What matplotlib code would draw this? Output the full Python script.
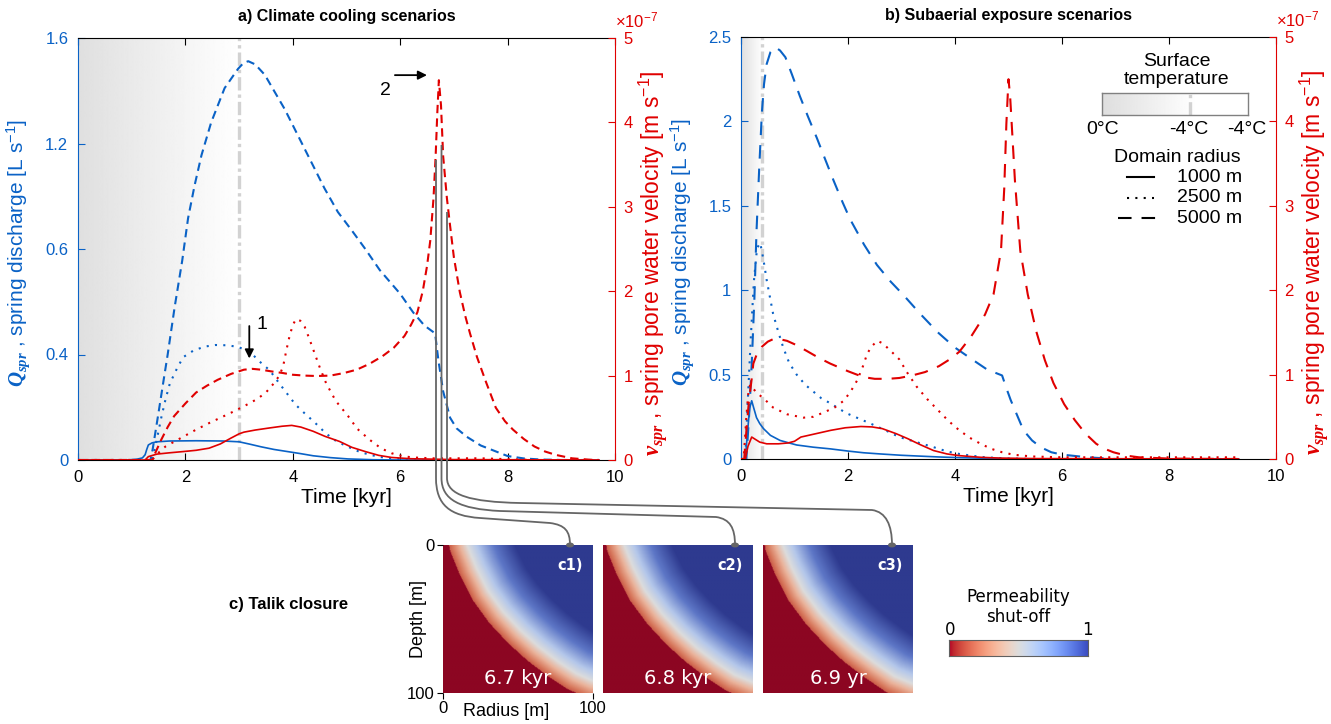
import numpy as np
import matplotlib
matplotlib.use('Agg')
import matplotlib.pyplot as plt
from matplotlib.colors import LinearSegmentedColormap
from matplotlib.lines import Line2D
from matplotlib.path import Path
from matplotlib.patches import PathPatch, Circle

plt.rcParams['font.family'] = ['Liberation Sans', 'DejaVu Sans']
plt.rcParams['mathtext.fontset'] = 'custom'
plt.rcParams['mathtext.rm'] = 'Liberation Sans'
plt.rcParams['mathtext.it'] = 'Liberation Sans:italic'
plt.rcParams['mathtext.bf'] = 'Liberation Serif:bold'
plt.rcParams['mathtext.bfit'] = 'Liberation Serif:italic:bold'

BLUE = '#0a62c6'
RED = '#e00000'

# ---------------- data: panel a (climate cooling) ----------------
# (time kyr, Q L/s)
A_Q1000 = [(0, 0), (0.9, 0), (1.1, 0.003), (1.2, 0.008), (1.25, 0.02), (1.28, 0.04), (1.31, 0.057),
           (1.38, 0.065), (1.47, 0.069), (1.7, 0.072), (2.2, 0.073), (2.7, 0.072), (3.0, 0.069),
           (3.2, 0.06), (3.41, 0.05), (3.65, 0.04), (3.9, 0.032), (4.15, 0.024), (4.38, 0.016),
           (4.7, 0.009), (5.03, 0.004), (5.5, 0.001), (6.0, 0), (9.7, 0)]
A_Q2500 = [(0, 0), (1.38, 0), (1.45, 0.06), (1.55, 0.16), (1.63, 0.23), (1.71, 0.29), (1.85, 0.35),
           (1.96, 0.39), (2.15, 0.415), (2.36, 0.43), (2.56, 0.436), (2.76, 0.435), (2.95, 0.43),
           (3.1, 0.42), (3.25, 0.40), (3.4, 0.37), (3.57, 0.34), (3.75, 0.29), (3.9, 0.25),
           (4.05, 0.21), (4.22, 0.177), (4.42, 0.14), (4.62, 0.10), (4.82, 0.07), (5.03, 0.05),
           (5.23, 0.032), (5.43, 0.02), (5.64, 0.011), (5.84, 0.006), (6.1, 0.002), (6.5, 0), (9.7, 0)]
A_Q5000 = [(0, 0), (1.35, 0), (1.39, 0.04), (1.5, 0.18), (1.6, 0.31), (1.67, 0.40), (1.8, 0.58),
           (1.94, 0.755), (2.05, 0.917), (2.17, 1.04), (2.3, 1.156), (2.48, 1.28), (2.73, 1.41),
           (2.98, 1.483), (3.08, 1.505), (3.17, 1.512), (3.3, 1.50), (3.48, 1.46), (3.65, 1.40),
           (3.85, 1.33), (4.22, 1.18), (4.59, 1.03), (4.84, 0.94), (5.1, 0.87), (5.35, 0.80),
           (5.62, 0.72), (6.0, 0.63), (6.24, 0.56), (6.45, 0.51), (6.65, 0.48), (6.71, 0.38),
           (6.8, 0.26), (6.93, 0.16), (7.05, 0.12), (7.24, 0.088), (7.5, 0.055), (7.75, 0.035),
           (8.0, 0.015), (8.3, 0.006), (8.6, 0.002), (9.0, 0), (9.7, 0)]
# (time kyr, v in 1e-7 m/s)
A_V1000 = [(0, 0), (1.25, 0), (1.31, 0.04), (1.47, 0.07), (1.7, 0.085), (1.96, 0.10), (2.2, 0.115),
           (2.44, 0.14), (2.65, 0.19), (2.85, 0.26), (3.0, 0.31), (3.09, 0.33), (3.3, 0.355),
           (3.57, 0.38), (3.8, 0.40), (3.98, 0.41), (4.15, 0.39), (4.38, 0.34), (4.6, 0.28),
           (4.87, 0.22), (5.1, 0.15), (5.35, 0.10), (5.6, 0.055), (5.84, 0.03), (6.2, 0.015),
           (7.0, 0.005), (9.7, 0)]
A_V2500 = [(0, 0), (1.38, 0), (1.45, 0.05), (1.55, 0.12), (1.63, 0.16), (1.8, 0.22), (2.0, 0.29),
           (2.2, 0.36), (2.45, 0.44), (2.65, 0.5), (2.85, 0.56), (3.1, 0.64), (3.33, 0.72),
           (3.5, 0.8), (3.65, 0.91), (3.75, 1.0), (3.82, 1.11), (3.88, 1.3), (3.94, 1.47),
           (4.0, 1.6), (4.06, 1.67), (4.14, 1.65), (4.22, 1.58), (4.3, 1.45), (4.38, 1.31),
           (4.5, 1.1), (4.62, 0.91), (4.8, 0.7), (5.03, 0.52), (5.2, 0.37), (5.43, 0.24),
           (5.64, 0.14), (5.84, 0.08), (6.05, 0.045), (6.24, 0.03), (6.6, 0.02), (7.5, 0.02),
           (8.0, 0.01), (8.5, 0), (9.7, 0)]
A_V5000 = [(0, 0), (1.38, 0), (1.45, 0.1), (1.55, 0.24), (1.67, 0.39), (1.79, 0.52), (2.0, 0.67),
           (2.2, 0.80), (2.4, 0.88), (2.6, 0.95), (2.85, 1.02), (3.09, 1.07), (3.25, 1.08),
           (3.41, 1.07), (3.6, 1.05), (3.82, 1.03), (4.0, 1.01), (4.22, 1.0), (4.45, 0.995),
           (4.7, 1.0), (4.95, 1.03), (5.19, 1.07), (5.43, 1.14), (5.67, 1.23), (5.88, 1.33),
           (6.08, 1.47), (6.2, 1.6), (6.32, 1.75), (6.42, 2.0), (6.5, 2.3), (6.56, 2.6),
           (6.62, 3.1), (6.66, 3.6), (6.69, 4.1), (6.72, 4.5), (6.76, 4.2), (6.8, 3.6),
           (6.87, 3.1), (6.93, 2.77), (7.0, 2.4), (7.11, 1.99), (7.21, 1.71), (7.3, 1.5),
           (7.43, 1.22), (7.6, 0.92), (7.78, 0.62), (7.95, 0.46), (8.1, 0.36), (8.3, 0.25),
           (8.5, 0.16), (8.7, 0.1), (8.9, 0.06), (9.2, 0.02), (9.6, 0), (9.7, 0)]

# ---------------- data: panel b (subaerial exposure) ----------------
B_Q1000 = [(0, 0), (0.08, 0), (0.12, 0.15), (0.16, 0.3), (0.2, 0.345), (0.24, 0.3), (0.29, 0.245),
           (0.35, 0.21), (0.42, 0.18), (0.55, 0.14), (0.73, 0.11), (0.9, 0.095), (1.04, 0.083),
           (1.35, 0.07), (1.67, 0.06), (2.0, 0.047), (2.29, 0.037), (2.6, 0.03), (3.0, 0.022),
           (3.28, 0.018), (3.7, 0.012), (4.08, 0.008), (4.6, 0.004), (5.0, 0.002), (5.5, 0), (9.3, 0)]
B_Q2500 = [(0, 0), (0.08, 0), (0.12, 0.3), (0.18, 0.7), (0.24, 1.05), (0.3, 1.25), (0.36, 1.28),
           (0.42, 1.18), (0.48, 1.06), (0.54, 0.96), (0.6, 0.86), (0.7, 0.75), (0.79, 0.66),
           (0.9, 0.57), (1.04, 0.5), (1.2, 0.44), (1.35, 0.40), (1.5, 0.36), (1.67, 0.33),
           (1.82, 0.30), (1.98, 0.27), (2.2, 0.24), (2.42, 0.21), (2.7, 0.17), (2.96, 0.13),
           (3.28, 0.1), (3.6, 0.07), (3.85, 0.045), (4.08, 0.03), (4.3, 0.02), (4.56, 0.01),
           (5.0, 0.003), (5.5, 0), (9.3, 0)]
B_Q5000 = [(0, 0), (0.1, 0), (0.15, 0.25), (0.2, 0.56), (0.25, 0.95), (0.29, 1.35), (0.34, 1.72),
           (0.39, 2.05), (0.43, 2.22), (0.48, 2.34), (0.55, 2.41), (0.64, 2.44), (0.73, 2.42),
           (0.83, 2.38), (0.95, 2.28), (1.1, 2.15), (1.25, 2.03), (1.42, 1.90), (1.58, 1.77),
           (1.73, 1.65), (1.9, 1.52), (2.04, 1.42), (2.3, 1.27), (2.54, 1.15), (2.8, 1.05),
           (3.04, 0.97), (3.35, 0.86), (3.68, 0.75), (4.0, 0.66), (4.32, 0.59), (4.6, 0.53),
           (4.88, 0.495), (4.96, 0.42), (5.04, 0.35), (5.16, 0.26), (5.28, 0.17), (5.44, 0.11),
           (5.6, 0.07), (5.8, 0.04), (6.0, 0.026), (6.48, 0.01), (7.0, 0), (9.3, 0)]
B_V1000 = [(0, 0), (0.08, 0), (0.13, 0.15), (0.2, 0.26), (0.25, 0.24), (0.35, 0.2), (0.48, 0.18),
           (0.7, 0.18), (0.88, 0.19), (1.0, 0.21), (1.12, 0.26), (1.4, 0.3), (1.68, 0.34),
           (1.95, 0.37), (2.24, 0.385), (2.45, 0.38), (2.64, 0.36), (2.9, 0.3), (3.12, 0.24),
           (3.35, 0.17), (3.6, 0.10), (3.85, 0.06), (4.08, 0.04), (4.48, 0.02), (4.88, 0.01),
           (5.5, 0.005), (9.3, 0)]
B_V2500 = [(0, 0), (0.05, 0), (0.1, 0.5), (0.14, 0.8), (0.17, 0.88), (0.22, 0.84), (0.3, 0.78),
           (0.42, 0.72), (0.6, 0.61), (0.86, 0.53), (1.17, 0.49), (1.35, 0.5), (1.54, 0.55),
           (1.75, 0.61), (1.92, 0.69), (2.05, 0.8), (2.17, 0.93), (2.28, 1.1), (2.36, 1.25),
           (2.45, 1.34), (2.55, 1.4), (2.65, 1.37), (2.8, 1.28), (2.96, 1.18), (3.1, 1.03),
           (3.28, 0.86), (3.48, 0.71), (3.68, 0.58), (3.88, 0.45), (4.08, 0.34), (4.28, 0.25),
           (4.48, 0.18), (4.68, 0.12), (4.88, 0.08), (5.1, 0.05), (5.44, 0.03), (6.0, 0.02),
           (9.3, 0.02)]
B_V5000 = [(0, 0), (0.06, 0), (0.1, 0.33), (0.15, 0.7), (0.2, 0.95), (0.23, 1.13), (0.3, 1.25),
           (0.39, 1.33), (0.5, 1.39), (0.6, 1.42), (0.72, 1.42), (0.86, 1.40), (1.0, 1.36),
           (1.23, 1.28), (1.45, 1.2), (1.67, 1.13), (2.0, 1.04), (2.29, 0.97), (2.5, 0.95),
           (2.75, 0.95), (2.96, 0.96), (3.2, 0.99), (3.44, 1.03), (3.7, 1.1), (3.9, 1.18),
           (4.08, 1.27), (4.3, 1.45), (4.56, 1.71), (4.72, 1.95), (4.86, 2.47), (4.92, 3.2),
           (4.96, 3.97), (5.0, 4.5), (5.03, 4.3), (5.06, 3.97), (5.12, 3.3), (5.22, 2.47),
           (5.36, 1.95), (5.52, 1.51), (5.68, 1.17), (5.84, 0.9), (6.04, 0.65), (6.24, 0.46),
           (6.44, 0.3), (6.64, 0.18), (6.8, 0.12), (6.96, 0.08), (7.2, 0.04), (7.44, 0.02),
           (8.0, 0.005), (9.3, 0)]

A_QTICKS = [0, 0.4, 0.8, 1.2, 1.6]
A_QTICKLABELS = ['0', '0.4', '0.6', '1.2', '1.6']
B_QTICKS = [0, 0.5, 1, 1.5, 2, 2.5]
B_QTICKLABELS = ['0', '0.5', '1', '1.5', '2', '2.5']
V_TICKS = [0, 1, 2, 3, 4, 5]
X_TICKS = [0, 2, 4, 6, 8, 10]
LEGEND_RADII = ['1000 m', '2500 m', '5000 m']
TEMP_LABELS = ['0°C', '-4°C', '-4°C']
SNAP_LABELS = ['6.7 kyr', '6.8 kyr', '6.9 yr']
SNAP_TAGS = ['c1)', 'c2)', 'c3)']

W, H = 1331, 724
fig = plt.figure(figsize=(W / 100, H / 100), dpi=100)


def rect(l, t, r, b):
    return [l / W, 1 - b / H, (r - l) / W, (b - t) / H]


def fp(x, y):
    return (x / W, 1 - y / H)


def xy(series):
    a = np.array(series, dtype=float)
    return a[:, 0], a[:, 1]


LW = 1.5
DOT = (1.0, 3.0)


def make_panel(box, qmax, qticks, qlabels, tcool, title, qs, vs, dash):
    ax = fig.add_axes(rect(*box))
    grad = np.linspace(0.875, 1.0, 256)[None, :]
    ax.imshow(grad, cmap='gray', vmin=0, vmax=1, extent=[0, tcool, 0, qmax],
              aspect='auto', zorder=0, interpolation='bilinear')
    ax.plot([tcool, tcool], [0, qmax], color='#d2d2d2', lw=2.4,
            dashes=(4, 1.2, 1.0, 1.2), zorder=1)
    styles = [dict(ls='-', lw=1.2), dict(lw=LW, dashes=DOT), dict(lw=LW, dashes=dash)]
    for s, st in zip(qs, styles):
        t, q = xy(s)
        ax.plot(t, q, color=BLUE, zorder=3, **st)
    ax.set_xlim(0, 10)
    ax.set_ylim(0, qmax)
    ax.set_xticks(X_TICKS)
    ax.set_yticks(qticks)
    ax.set_yticklabels(qlabels)
    ax.tick_params(axis='x', direction='in', top=True, length=5, labelsize=12, pad=7, width=0.8)
    ax.tick_params(axis='y', direction='in', length=5, labelsize=12, colors=BLUE, pad=7, width=0.8)
    ax.set_xlabel('Time [kyr]', fontsize=15, labelpad=2)
    ax.set_ylabel(r'$\mathbfit{Q}_{\mathbfit{spr}}$ , spring discharge [L s$^{-1}$]',
                  fontsize=15, color=BLUE)
    ax.yaxis.set_label_coords(-0.085, 0.49)
    ax.spines['left'].set_color(BLUE)
    ax.spines['right'].set_visible(False)
    for sp in ax.spines.values():
        sp.set_linewidth(0.8)

    ax2 = ax.twinx()
    for s, st in zip(vs, styles):
        t, v = xy(s)
        ax2.plot(t, v, color=RED, zorder=3, **st)
    ax2.set_ylim(0, 5)
    ax2.set_xlim(0, 10)
    ax2.set_yticks(V_TICKS)
    ax2.tick_params(axis='y', direction='in', length=5, labelsize=12, colors=RED, pad=6, width=0.8)
    ax2.set_ylabel(r'$\mathbfit{v}_{\mathbfit{spr}}$ , spring pore water velocity [m s$^{-1}$]',
                   fontsize=16.5, color=RED)
    ax2.yaxis.set_label_coords(1.04, 0.465)
    ax2.spines['right'].set_color(RED)
    for k in ['left', 'top', 'bottom']:
        ax2.spines[k].set_visible(False)
    ax2.spines['right'].set_linewidth(0.8)
    ax2.text(1.0, 1.018, r'$\times$10$^{-7}$', transform=ax2.transAxes, color=RED,
             fontsize=12, ha='left', va='bottom')
    ax.set_title(title, fontsize=11.5, fontweight='bold', pad=12)
    return ax, ax2


axA, axA2 = make_panel((78, 38, 615, 460), 1.6, A_QTICKS, A_QTICKLABELS, 3.0,
                       'a) Climate cooling scenarios',
                       [A_Q1000, A_Q2500, A_Q5000], [A_V1000, A_V2500, A_V5000], (4, 2.5))
axB, axB2 = make_panel((741, 37, 1276, 459), 2.5, B_QTICKS, B_QTICKLABELS, 0.4,
                       'b) Subaerial exposure scenarios',
                       [B_Q1000, B_Q2500, B_Q5000], [B_V1000, B_V2500, B_V5000], (6.5, 4.8))

# annotations in panel a
axA2.annotate('', xy=(3.19, 1.17), xytext=(3.19, 1.62),
              arrowprops=dict(arrowstyle='-|>', color='k', lw=1.3, mutation_scale=13))
axA2.text(3.33, 1.6, '1', fontsize=14, ha='left', va='center')
axA2.annotate('', xy=(6.55, 4.56), xytext=(5.85, 4.56),
              arrowprops=dict(arrowstyle='-|>', color='k', lw=1.3, mutation_scale=13))
axA2.text(5.72, 4.38, '2', fontsize=14, ha='center', va='center')

# ---------------- legend in panel b ----------------
fig.text(*fp(1177, 62), 'Surface', fontsize=14, ha='center', va='center')
fig.text(*fp(1177, 80), 'temperature', fontsize=14, ha='center', va='center')
lax = fig.add_axes(rect(1102, 93, 1248, 115))
lg = np.clip(np.linspace(0.87, 1.07, 256), 0, 1)[None, :]
lax.imshow(lg, cmap='gray', vmin=0, vmax=1, aspect='auto', extent=[0, 1, 0, 1],
           interpolation='bilinear')
lax.plot([0.6, 0.6], [0, 1], color='#d2d2d2', lw=2.4, dashes=(4, 1.2, 1.0, 1.2))
lax.set_xlim(0, 1)
lax.set_ylim(0, 1)
lax.set_xticks([])
lax.set_yticks([])
for sp in lax.spines.values():
    sp.set_color('#808080')
    sp.set_linewidth(1.0)
for lbl, x in zip(TEMP_LABELS, [1103, 1189, 1247]):
    fig.text(*fp(x, 129), lbl, fontsize=14, ha='center', va='center')
fig.text(*fp(1177, 157), 'Domain radius', fontsize=14, ha='center', va='center')
leg_styles = [dict(ls='-'), dict(dashes=DOT), dict(dashes=(6.5, 4.8))]
for i, (lbl, st) in enumerate(zip(LEGEND_RADII, leg_styles)):
    yy = 177 + 20.5 * i
    x0, x1 = (1118, 1162) if i == 2 else (1127, 1154)
    fig.add_artist(Line2D([x0 / W, x1 / W], [1 - yy / H] * 2, color='k', lw=LW,
                          transform=fig.transFigure, **st))
    fig.text(*fp(1177, yy), lbl, fontsize=14, ha='left', va='center')

# ---------------- panel c: talik closure snapshots ----------------
BOUNDARIES = [
    [(16, 0), (22, 15), (30, 31), (40, 45), (52, 58), (64, 69), (77, 79), (89, 87), (100, 92)],
    [(14, 0), (20, 15), (28, 31), (39, 46), (51, 59), (63, 70), (76, 80), (88, 88), (100, 93)],
    [(13, 0), (19, 15), (27, 31), (38, 46), (50, 59), (62, 70), (75, 80), (88, 89), (100, 94)],
]
img_cmap = LinearSegmentedColormap.from_list('perm', [
    (0.0, '#8c0622'), (0.12, '#b8322c'), (0.26, '#d87a5e'), (0.38, '#eab39b'),
    (0.5, '#dcdcdc'), (0.6, '#b4c7ea'), (0.78, '#5d76c6'), (1.0, '#2e3a8f')])

n = 200
rr, dd = np.meshgrid(np.linspace(0, 100, n), np.linspace(0, 100, n))
boxes = [(443, 545, 593, 693), (603, 545, 753, 693), (763, 545, 913, 693)]
for k, (bnd, bx) in enumerate(zip(BOUNDARIES, boxes)):
    b = np.array(bnd, dtype=float)
    seg = []
    for i in range(len(b) - 1):
        s = np.linspace(0, 1, 40)[:, None]
        seg.append(b[i] + s * (b[i + 1] - b[i]))
    seg = np.vstack(seg)
    pts = np.stack([rr.ravel(), dd.ravel()], axis=1)
    dist = np.full(len(pts), np.inf)
    for j in range(0, len(seg), 20):
        chunk = seg[j:j + 20]
        dd2 = np.sqrt(((pts[:, None, :] - chunk[None, :, :]) ** 2).sum(-1)).min(1)
        dist = np.minimum(dist, dd2)
    dist = dist.reshape(rr.shape)
    dbound = np.interp(rr, b[:, 0], b[:, 1], left=-1, right=b[-1, 1])
    red = (rr < b[0, 0]) | (dd > dbound)
    sd = np.where(red, -dist, dist)
    wr, wb = 12.0, 30.0
    val = np.where(sd < 0,
                   np.where(sd < -wr, 0.0, 0.2 + 0.3 * (sd + wr) / wr),
                   0.5 + 0.5 * np.clip(sd / wb, 0, 1))
    cax = fig.add_axes(rect(*bx))
    cax.imshow(val, cmap=img_cmap, vmin=0, vmax=1, extent=[0, 100, 100, 0],
               aspect='auto', interpolation='bilinear')
    for sp in cax.spines.values():
        sp.set_visible(False)
    cax.text(0.5, 0.1, SNAP_LABELS[k], transform=cax.transAxes, color='white',
             fontsize=14, ha='center', va='center', family='DejaVu Sans')
    cax.text(0.93, 0.86, SNAP_TAGS[k], transform=cax.transAxes, color='white',
             fontsize=10.5, ha='right', va='center', family='DejaVu Sans', fontweight='bold')
    if k == 0:
        cax.set_xticks([0, 100])
        cax.set_yticks([0, 100])
        cax.tick_params(direction='out', length=4, labelsize=12, pad=2)
        cax.set_ylabel('Depth [m]', fontsize=13)
        cax.yaxis.set_label_coords(-0.105, 0.5)
    else:
        cax.set_xticks([])
        cax.set_yticks([])

fig.text(*fp(506, 712), 'Radius [m]', fontsize=13, ha='center', va='center')
fig.text(*fp(289, 605), 'c) Talik closure', fontsize=12, ha='center', va='center',
         fontweight='bold')

# colorbar
cbax = fig.add_axes(rect(949, 640, 1088, 656))
cbax.imshow(np.linspace(0, 1, 256)[None, :], cmap='coolwarm_r', aspect='auto',
            extent=[0, 1, 0, 1])
cbax.set_xticks([])
cbax.set_yticks([])
for sp in cbax.spines.values():
    sp.set_color('#606060')
    sp.set_linewidth(0.8)
fig.text(*fp(1018, 597), 'Permeability', fontsize=12, ha='center', va='center',
         family='DejaVu Sans')
fig.text(*fp(1018, 617), 'shut-off', fontsize=12, ha='center', va='center',
         family='DejaVu Sans')
fig.text(*fp(950, 630), '0', fontsize=12, ha='center', va='center', family='DejaVu Sans')
fig.text(*fp(1087, 630), '1', fontsize=12, ha='center', va='center', family='DejaVu Sans')

# connectors from panel a to snapshots
CONN = [
    [(436, 160), (436, 478), (436, 505), (450, 516), (480, 518), (550, 523),
     (565, 525), (570, 531), (570, 545)],
    [(441.5, 145), (441.5, 478), (441.5, 500), (460, 509), (500, 511), (716, 517),
     (730, 519), (735, 528), (735, 545)],
    [(447, 212), (447, 478), (447, 495), (470, 502), (520, 503), (872, 510),
     (886, 512), (892, 525), (892, 545)],
]
codes = [Path.MOVETO, Path.LINETO, Path.CURVE4, Path.CURVE4, Path.CURVE4, Path.LINETO,
         Path.CURVE4, Path.CURVE4, Path.CURVE4]
for c in CONN:
    verts = [fp(x, y) for x, y in c]
    fig.add_artist(PathPatch(Path(verts, codes), facecolor='none', edgecolor='#666666',
                             lw=1.3, transform=fig.transFigure, zorder=10))
    ex, ey = c[-1]
    fig.add_artist(Circle(fp(ex, ey), radius=3.2 / W, color='#666666',
                          transform=fig.transFigure, zorder=11))

fig.savefig('out.png', dpi=100)
